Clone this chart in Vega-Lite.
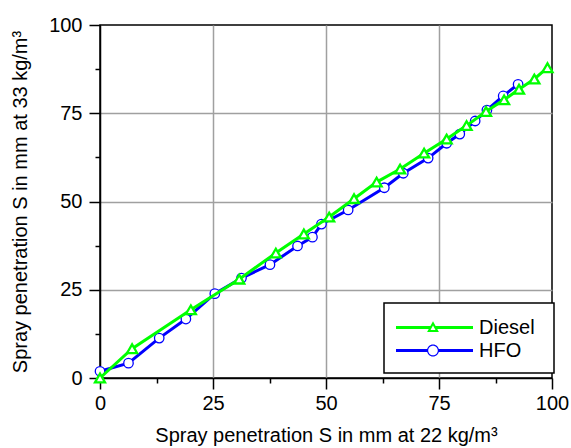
{
  "$schema": "https://vega.github.io/schema/vega-lite/v6.json",
  "width": 452,
  "height": 353,
  "autosize": {"type": "none"},
  "padding": {"left": 100, "top": 25, "right": 19, "bottom": 70},
  "background": "white",
  "config": {
    "view": {"stroke": "#000000", "strokeWidth": 1.5},
    "font": "Liberation Sans",
    "axis": {
      "labelFont": "Liberation Sans",
      "titleFont": "Liberation Sans",
      "labelFontSize": 20,
      "titleFontSize": 20,
      "labelColor": "#000000",
      "titleColor": "#000000",
      "titleFontWeight": "normal",
      "domainColor": "#000000",
      "domainWidth": 1.5,
      "tickColor": "#000000",
      "tickWidth": 1.5,
      "gridColor": "#a0a0a0",
      "gridWidth": 1.5
    }
  },
  "data": {
    "values": [
      {"series": "HFO", "x": 0, "y": 1.9},
      {"series": "HFO", "x": 6.3, "y": 4.2},
      {"series": "HFO", "x": 13.1, "y": 11.3},
      {"series": "HFO", "x": 19.0, "y": 16.7},
      {"series": "HFO", "x": 25.4, "y": 23.9},
      {"series": "HFO", "x": 31.3, "y": 28.3},
      {"series": "HFO", "x": 37.6, "y": 32.1},
      {"series": "HFO", "x": 43.7, "y": 37.4},
      {"series": "HFO", "x": 47.0, "y": 39.9},
      {"series": "HFO", "x": 49.0, "y": 43.6},
      {"series": "HFO", "x": 54.9, "y": 47.6},
      {"series": "HFO", "x": 62.9, "y": 53.9},
      {"series": "HFO", "x": 67.1, "y": 58.0},
      {"series": "HFO", "x": 72.6, "y": 62.3},
      {"series": "HFO", "x": 76.7, "y": 66.5},
      {"series": "HFO", "x": 79.6, "y": 69.1},
      {"series": "HFO", "x": 83.0, "y": 72.8},
      {"series": "HFO", "x": 85.6, "y": 75.9},
      {"series": "HFO", "x": 89.2, "y": 79.9},
      {"series": "HFO", "x": 92.5, "y": 83.2},
      {"series": "Diesel", "x": 0, "y": 0},
      {"series": "Diesel", "x": 7.1, "y": 8.3},
      {"series": "Diesel", "x": 20.1, "y": 19.3},
      {"series": "Diesel", "x": 30.8, "y": 28.0},
      {"series": "Diesel", "x": 38.9, "y": 35.4},
      {"series": "Diesel", "x": 45.1, "y": 40.8},
      {"series": "Diesel", "x": 50.7, "y": 45.6},
      {"series": "Diesel", "x": 56.2, "y": 50.8},
      {"series": "Diesel", "x": 61.2, "y": 55.5},
      {"series": "Diesel", "x": 66.4, "y": 59.2},
      {"series": "Diesel", "x": 71.7, "y": 63.7},
      {"series": "Diesel", "x": 76.7, "y": 67.7},
      {"series": "Diesel", "x": 81.1, "y": 71.5},
      {"series": "Diesel", "x": 85.4, "y": 75.5},
      {"series": "Diesel", "x": 89.4, "y": 78.8},
      {"series": "Diesel", "x": 92.7, "y": 81.8},
      {"series": "Diesel", "x": 96.1, "y": 84.7},
      {"series": "Diesel", "x": 99.0, "y": 87.9}
    ]
  },
  "encoding": {
    "x": {
      "field": "x",
      "type": "quantitative",
      "scale": {"domain": [0, 100], "nice": false, "zero": false},
      "axis": {
        "title": "Spray penetration S in mm at 22 kg/m³",
        "values": [0, 12.5, 25, 37.5, 50, 62.5, 75, 87.5, 100],
        "labelExpr": "datum.value % 25 === 0 ? datum.label : ''",
        "tickSize": {"condition": {"test": "datum.value % 25 === 0", "value": 11}, "value": 5},
        "gridOpacity": {"condition": {"test": "datum.value % 25 === 0 && datum.value > 0 && datum.value < 100", "value": 1}, "value": 0},
        "labelPadding": 4,
        "labelFlush": false,
        "labelOverlap": false,
        "titlePadding": 12
      }
    },
    "y": {
      "field": "y",
      "type": "quantitative",
      "scale": {"domain": [0, 100], "nice": false, "zero": false},
      "axis": {
        "title": "Spray penetration S in mm at 33 kg/m³",
        "values": [0, 12.5, 25, 37.5, 50, 62.5, 75, 87.5, 100],
        "labelExpr": "datum.value % 25 === 0 ? datum.label : ''",
        "tickSize": {"condition": {"test": "datum.value % 25 === 0", "value": 11}, "value": 5},
        "gridOpacity": {"condition": {"test": "datum.value % 25 === 0 && datum.value > 0 && datum.value < 100", "value": 1}, "value": 0},
        "labelPadding": 7,
        "labelFlush": false,
        "labelOverlap": false,
        "titlePadding": 18
      }
    }
  },
  "layer": [
    {
      "transform": [{"filter": "datum.series === 'HFO'"}],
      "mark": {"type": "line", "strokeWidth": 3},
      "encoding": {
        "color": {
          "field": "series",
          "type": "nominal",
          "scale": {"domain": ["Diesel", "HFO"], "range": ["#00ff00", "#0000ff"]},
          "legend": {
            "title": null,
            "orient": "none",
            "legendX": 284,
            "legendY": 278,
            "padding": 12,
            "fillColor": "white",
            "strokeColor": "#000000",
            "labelFont": "Liberation Sans",
            "labelFontSize": 20,
            "labelColor": "#000000",
            "labelOffset": 58,
            "symbolSize": 625,
            "symbolStrokeWidth": 0,
            "rowPadding": 0,
            "encode": {
              "legend": {"update": {"strokeWidth": {"value": 1.5}}},
              "symbols": {
                "update": {
                  "shape": {"signal": "datum.value === 'Diesel' ? 'M-1,-0.12H1.768V0.12H-1Z M2.152,-0.12H5.16V0.12H2.152Z M1.96,-0.496L2.432,0.368L1.488,0.368Z M1.96,-0.162L1.758,0.208L2.162,0.208Z M10.64,0Z' : 'M-1,-0.12H1.56V0.12H-1Z M2.36,-0.12H5.16V0.12H2.36Z M2.44,0C2.44,0.265 2.225,0.48 1.96,0.48C1.695,0.48 1.48,0.265 1.48,0C1.48,-0.265 1.695,-0.48 1.96,-0.48C2.225,-0.48 2.44,-0.265 2.44,0Z M2.344,0C2.344,-0.212 2.172,-0.384 1.96,-0.384C1.748,-0.384 1.576,-0.212 1.576,0C1.576,0.212 1.748,0.384 1.960,0.384C2.172,0.384 2.344,0.212 2.344,0Z M10.64,0Z'"},
                  "fill": {"signal": "datum.value === 'Diesel' ? '#00ff00' : '#0000ff'"},
                  "stroke": {"value": "transparent"},
                  "strokeWidth": {"value": 0},
                  "size": {"value": 625},
                  "opacity": {"value": 1},
                  "fillOpacity": {"value": 1}
                }
              }
            }
          }
        }
      }
    },
    {
      "transform": [{"filter": "datum.series === 'HFO'"}],
      "mark": {"type": "point", "shape": "circle", "size": 90, "filled": true, "fill": "#ffffff", "stroke": "#0000ff", "strokeWidth": 1.3, "opacity": 1}
    },
    {
      "transform": [{"filter": "datum.series === 'Diesel'"}],
      "mark": {"type": "line", "strokeWidth": 3},
      "encoding": {
        "color": {"field": "series", "type": "nominal"}
      }
    },
    {
      "transform": [{"filter": "datum.series === 'Diesel'"}],
      "mark": {"type": "point", "shape": "triangle-up", "size": 100, "filled": true, "fill": "#ffffff", "stroke": "#00ff00", "strokeWidth": 2.3, "opacity": 1}
    }
  ]
}
